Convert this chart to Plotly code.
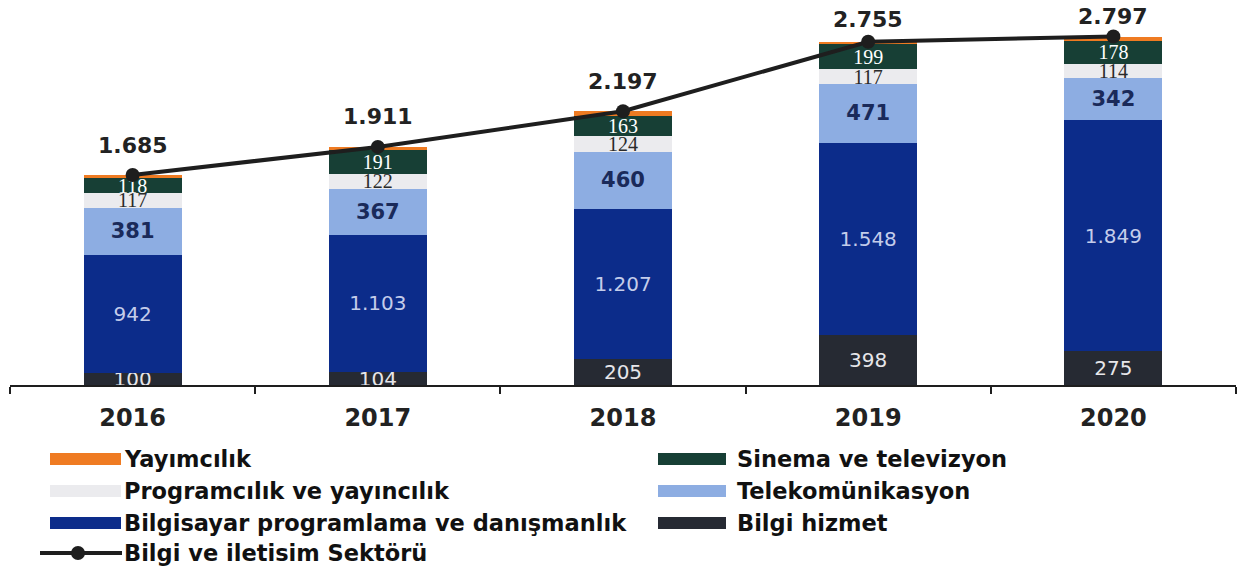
import plotly.graph_objects as go

years = ["2016", "2017", "2018", "2019", "2020"]

bilgi_hizmet = [100, 104, 205, 398, 275]
bilgisayar = [942, 1103, 1207, 1548, 1849]
telekom = [381, 367, 460, 471, 342]
programcilik = [117, 122, 124, 117, 114]
sinema = [118, 191, 163, 199, 178]
yayimcilik = [27, 24, 38, 22, 39]
toplam = [1685, 1911, 2197, 2755, 2797]

# stack order, bottom to top
series = [
    ("Bilgi hizmet", bilgi_hizmet, "#262a33", "#e6e6ea", "DejaVu Sans"),
    ("Bilgisayar programlama ve danışmanlık", bilgisayar, "#0c2c8a", "#c4cdea", "DejaVu Sans"),
    ("Telekomünikasyon", telekom, "#8dade2", "#1a2a5a", "DejaVu Sans"),
    ("Programcılık ve yayıncılık", programcilik, "#ebebee", "#2a2a2a", "Liberation Serif"),
    ("Sinema ve televizyon", sinema, "#173f35", "#ffffff", "Liberation Serif"),
    ("Yayımcılık", yayimcilik, "#ef7b22", "#ffffff", "DejaVu Sans"),
]

W, H = 1252, 573
ML, MR, MT, MB = 10, 16, 0, 188
PW, PH = W - ML - MR, H - MT - MB

# pixel gap between line marker and its total label (tighter near the top edge)
label_gap = [30, 30, 30, 22, 20]


def px2x(px):
    return (px - ML) / PW


def px2y(py):
    return (H - MB - py) / PH


fig = go.Figure()

for name, vals, color, tcolor, tfont in series:
    bold = name == "Telekomünikasyon"
    show = name != "Yayımcılık"
    fig.add_trace(go.Bar(
        x=years, y=vals, name=name, marker_color=color, marker_line_width=0,
        texttemplate="%{y:,}" if show else None,
        textposition="inside" if show else "none",
        insidetextanchor="middle", textangle=0, constraintext="none",
        textfont=dict(family=tfont, size=21 if bold else 20, color=tcolor,
                      weight="bold" if bold else "normal"),
        showlegend=False,
    ))

fig.add_trace(go.Scatter(
    x=years, y=toplam, name="Bilgi ve iletisim Sektörü",
    mode="lines+markers", line=dict(color="#1e1e1e", width=4),
    marker=dict(size=14, color="#1e1e1e"), showlegend=False,
))

# total labels above the line markers (x given as category index)
for i, v in enumerate(toplam):
    fig.add_annotation(x=i, y=v, text=f"{v:,}".replace(",", "."), showarrow=False,
                       yshift=label_gap[i],
                       font=dict(family="DejaVu Sans", size=22, color="#222", weight="bold"))

# legend drawn by hand: long swatches in two columns
left = ["Yayımcılık", "Programcılık ve yayıncılık", "Bilgisayar programlama ve danışmanlık"]
right = ["Sinema ve televizyon", "Telekomünikasyon", "Bilgi hizmet"]
colors = {s[0]: s[2] for s in series}
rows = [459, 491, 523]
LEG_FONT = dict(family="DejaVu Sans", size=22.5, color="#111", weight="bold")
for col, (sx0, sx1, tx) in [(left, (50, 121, 122)), (right, (658, 726, 735))]:
    for name, ry in zip(col, rows):
        fig.add_shape(type="rect", xref="paper", yref="paper",
                      x0=px2x(sx0), x1=px2x(sx1), y0=px2y(ry + 6), y1=px2y(ry - 6),
                      fillcolor=colors[name], line_width=0)
        fig.add_annotation(xref="paper", yref="paper", x=px2x(tx), y=px2y(ry),
                           xanchor="left", yanchor="middle", showarrow=False, text=name,
                           font=LEG_FONT)

fig.add_shape(type="line", xref="paper", yref="paper", x0=px2x(40), x1=px2x(122),
              y0=px2y(553), y1=px2y(553), line=dict(color="#1e1e1e", width=4))
fig.add_shape(type="circle", xref="paper", yref="paper", x0=px2x(71), x1=px2x(85),
              y0=px2y(560), y1=px2y(546), fillcolor="#1e1e1e", line_width=0)
fig.add_annotation(xref="paper", yref="paper", x=px2x(122), y=px2y(553),
                   xanchor="left", yanchor="middle", showarrow=False,
                   text="Bilgi ve iletisim Sektörü", font=LEG_FONT)

fig.update_layout(
    barmode="stack", bargap=0.6,
    width=W, height=H, margin=dict(l=ML, r=MR, t=MT, b=MB),
    paper_bgcolor="white", plot_bgcolor="white",
    separators=",.", showlegend=False,
    font=dict(family="DejaVu Sans", color="#222"),
)
fig.update_xaxes(type="category", range=[-0.5, 4.5], showline=True, linecolor="#1e1e1e",
                 linewidth=2, ticks="outside", tickson="boundaries", ticklen=7, tickwidth=2,
                 tickcolor="#1e1e1e", ticklabelstandoff=10,
                 tickfont=dict(family="DejaVu Sans", size=24, color="#222", weight="bold"),
                 showgrid=False)
fig.update_yaxes(visible=False, range=[0, 3090], showgrid=False)

# drop the default 8px body margin so the figure fills the window exactly
fig.write_html("out.html", config={"displayModeBar": False},
               post_script="document.body.style.margin = '0';")
